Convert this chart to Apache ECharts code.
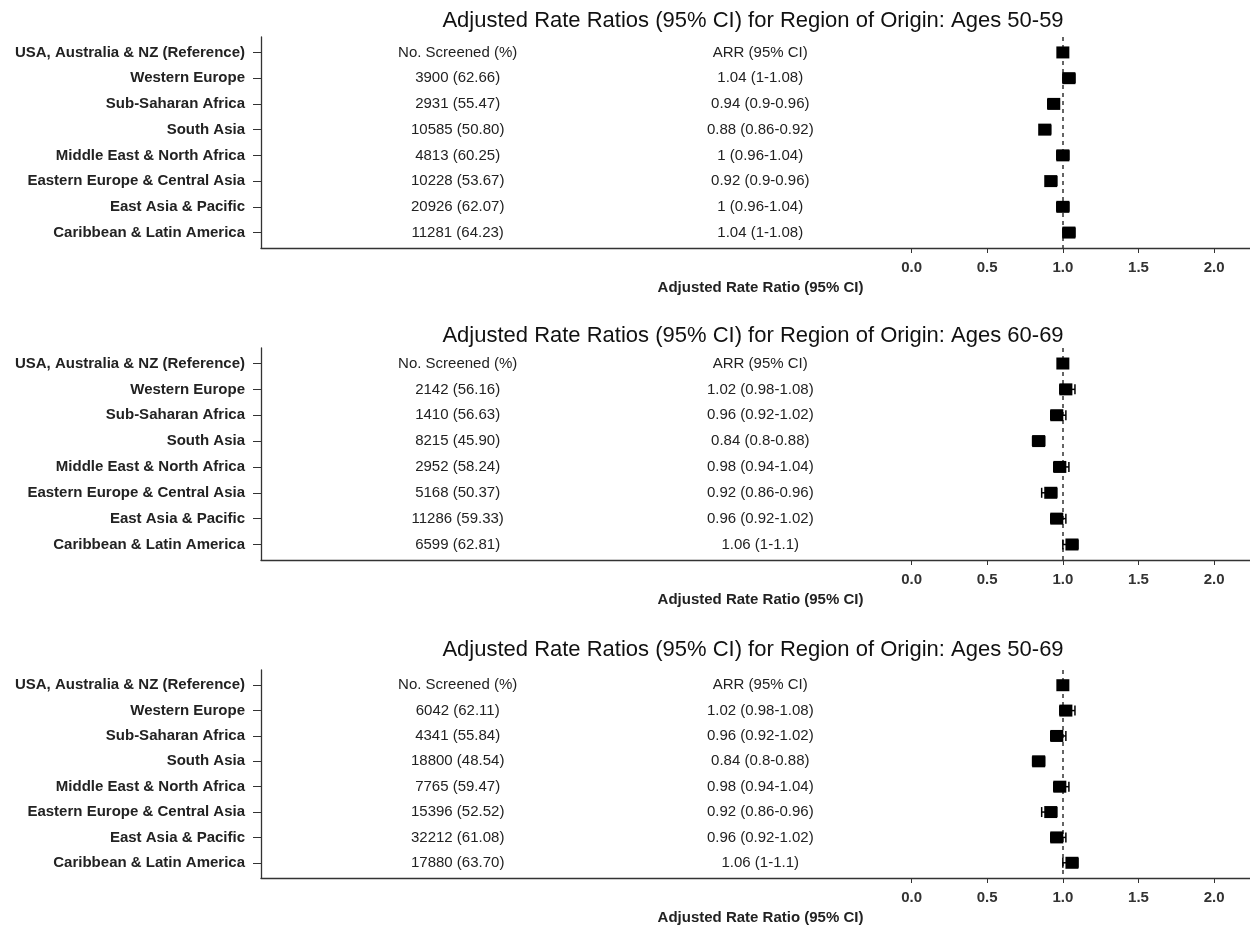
<!DOCTYPE html>
<html>
<head>
<meta charset="utf-8">
<script src="https://cdn.jsdelivr.net/npm/echarts@6/dist/echarts.min.js"></script>
<style>
  html, body { margin: 0; padding: 0; background: #ffffff; }
  #chart { width: 1250px; height: 926px; }
</style>
</head>
<body>
<div id="chart"></div>
<script>
// ---- data ----
const regions = [
  'USA, Australia & NZ (Reference)',
  'Western Europe',
  'Sub-Saharan Africa',
  'South Asia',
  'Middle East & North Africa',
  'Eastern Europe & Central Asia',
  'East Asia & Pacific',
  'Caribbean & Latin America'
];

const panelTitles = [
  'Adjusted Rate Ratios (95% CI) for Region of Origin: Ages 50-59',
  'Adjusted Rate Ratios (95% CI) for Region of Origin: Ages 60-69',
  'Adjusted Rate Ratios (95% CI) for Region of Origin: Ages 50-69'
];

// Ages 50-59
const screened5059 = [null, 3900, 2931, 10585, 4813, 10228, 20926, 11281];
const pct5059      = [null, 62.66, 55.47, 50.80, 60.25, 53.67, 62.07, 64.23];
const arr5059      = [1, 1.04, 0.94, 0.88, 1, 0.92, 1, 1.04];
const lo5059       = [null, 1, 0.9, 0.86, 0.96, 0.9, 0.96, 1];
const hi5059       = [null, 1.08, 0.96, 0.92, 1.04, 0.96, 1.04, 1.08];

// Ages 60-69
const screened6069 = [null, 2142, 1410, 8215, 2952, 5168, 11286, 6599];
const pct6069      = [null, 56.16, 56.63, 45.90, 58.24, 50.37, 59.33, 62.81];
const arr6069      = [1, 1.02, 0.96, 0.84, 0.98, 0.92, 0.96, 1.06];
const lo6069       = [null, 0.98, 0.92, 0.8, 0.94, 0.86, 0.92, 1];
const hi6069       = [null, 1.08, 1.02, 0.88, 1.04, 0.96, 1.02, 1.1];

// Ages 50-69
const screened5069 = [null, 6042, 4341, 18800, 7765, 15396, 32212, 17880];
const pct5069      = [null, 62.11, 55.84, 48.54, 59.47, 52.52, 61.08, 63.70];
const arr5069      = [1, 1.02, 0.96, 0.84, 0.98, 0.92, 0.96, 1.06];
const lo5069       = [null, 0.98, 0.92, 0.8, 0.94, 0.86, 0.92, 1];
const hi5069       = [null, 1.08, 1.02, 0.88, 1.04, 0.96, 1.02, 1.1];

const xTicks = [0, 0.5, 1, 1.5, 2];
const rowTicks = [0, 1, 2, 3, 4, 5, 6, 7];
const headerScreened = 'No. Screened (%)';
const headerArr = 'ARR (95% CI)';
const axisTitle = 'Adjusted Rate Ratio (95% CI)';
const nullValue = 1;

// ---- layout ----
const FONT = "'Liberation Sans', Arial, Helvetica, sans-serif";
const COL_SCREENED_X = -3;   // table columns live in the left part of the x range
const COL_ARR_X = -1;
const X_MIN = -4.3, X_MAX = 2.237;
const Y_MIN = -0.6, Y_MAX = 7.6;

const panels = [
  { top: 37,  height: 211, titleY: 21,  screened: screened5059, pct: pct5059, arr: arr5059, lo: lo5059, hi: hi5059 },
  { top: 348, height: 212, titleY: 336, screened: screened6069, pct: pct6069, arr: arr6069, lo: lo6069, hi: hi6069 },
  { top: 670, height: 211, titleY: 650, screened: screened5069, pct: pct5069, arr: arr5069, lo: lo5069, hi: hi5069 }
];

const grids = [], xAxes = [], yAxes = [], series = [], graphics = [];

panels.forEach((p, k) => {
  grids.push({ left: 261, right: 0, top: p.top, height: p.height, containLabel: false });

  xAxes.push({
    gridIndex: k, type: 'value', min: X_MIN, max: X_MAX,
    axisLine: { onZero: false, lineStyle: { color: '#333', width: 1.3 } },
    axisTick: { customValues: xTicks, length: 5, lineStyle: { color: '#333' } },
    axisLabel: {
      customValues: xTicks, margin: 12,
      formatter: v => v.toFixed(1),
      fontFamily: FONT, fontWeight: 'bold', fontSize: 15, color: '#333'
    },
    splitLine: { show: false },
    name: axisTitle, nameLocation: 'middle', nameGap: 32,
    nameTextStyle: { fontFamily: FONT, fontWeight: 'bold', fontSize: 15, color: '#222', padding: [0, 0, 0, 10] }
  });

  yAxes.push({
    gridIndex: k, type: 'value', inverse: true, min: Y_MIN, max: Y_MAX,
    axisLine: { onZero: false, lineStyle: { color: '#333', width: 1.3 } },
    axisTick: { customValues: rowTicks, length: 8, lineStyle: { color: '#333' } },
    axisLabel: {
      customValues: rowTicks, margin: 16,
      formatter: v => regions[Math.round(v)] || '',
      fontFamily: FONT, fontWeight: 'bold', fontSize: 15, color: '#222'
    },
    splitLine: { show: false }
  });

  // text columns of the table
  const colScreened = regions.map((r, i) =>
    i === 0 ? headerScreened : p.screened[i] + ' (' + p.pct[i].toFixed(2) + ')');
  const colArr = regions.map((r, i) =>
    i === 0 ? headerArr : String(p.arr[i]) + ' (' + String(p.lo[i]) + '-' + String(p.hi[i]) + ')');
  const textData = [];
  regions.forEach((r, i) => {
    textData.push({ value: [COL_SCREENED_X, i], txt: colScreened[i] });
    textData.push({ value: [COL_ARR_X, i], txt: colArr[i] });
  });
  series.push({
    type: 'custom', xAxisIndex: k, yAxisIndex: k, silent: true,
    data: textData,
    renderItem: (params, api) => {
      const pt = api.coord([api.value(0), api.value(1)]);
      return {
        type: 'text', x: pt[0], y: pt[1],
        style: {
          text: textData[params.dataIndex].txt,
          textAlign: 'center', textVerticalAlign: 'middle',
          font: '15px ' + FONT, fill: '#222'
        }
      };
    }
  });

  // confidence-interval whiskers
  const ciData = [];
  regions.forEach((r, i) => { if (p.lo[i] != null) ciData.push([p.lo[i], p.hi[i], i]); });
  series.push({
    type: 'custom', xAxisIndex: k, yAxisIndex: k, silent: true, z: 3,
    data: ciData,
    encode: { x: [0, 1], y: 2 },
    renderItem: (params, api) => {
      const a = api.coord([api.value(0), api.value(2)]);
      const b = api.coord([api.value(1), api.value(2)]);
      const h = 5;
      const st = { stroke: '#000', lineWidth: 1.5 };
      return {
        type: 'group', children: [
          { type: 'line', shape: { x1: a[0], y1: a[1], x2: b[0], y2: b[1] }, style: st },
          { type: 'line', shape: { x1: a[0], y1: a[1] - h, x2: a[0], y2: a[1] + h }, style: st },
          { type: 'line', shape: { x1: b[0], y1: b[1] - h, x2: b[0], y2: b[1] + h }, style: st }
        ]
      };
    }
  });

  // point estimates + null reference line
  series.push({
    type: 'scatter', xAxisIndex: k, yAxisIndex: k, silent: true, z: 4,
    symbol: 'rect', symbolSize: [13, 12],
    itemStyle: { color: '#000', opacity: 1 },
    data: p.arr.map((v, i) => [v, i]),
    markLine: {
      silent: true, symbol: 'none', z: 2,
      label: { show: false },
      lineStyle: { type: [4, 4], color: '#333', width: 1.5 },
      data: [{ xAxis: nullValue }]
    }
  });

  graphics.push({
    type: 'text', x: 753, y: p.titleY,
    style: {
      text: panelTitles[k], textAlign: 'center', textVerticalAlign: 'middle',
      font: '22px ' + FONT, fill: '#111'
    }
  });
});

const chart = echarts.init(document.getElementById('chart'), null, { renderer: 'canvas' });
chart.setOption({
  animation: false,
  backgroundColor: '#ffffff',
  grid: grids,
  xAxis: xAxes,
  yAxis: yAxes,
  series: series,
  graphic: graphics
});
</script>
</body>
</html>
